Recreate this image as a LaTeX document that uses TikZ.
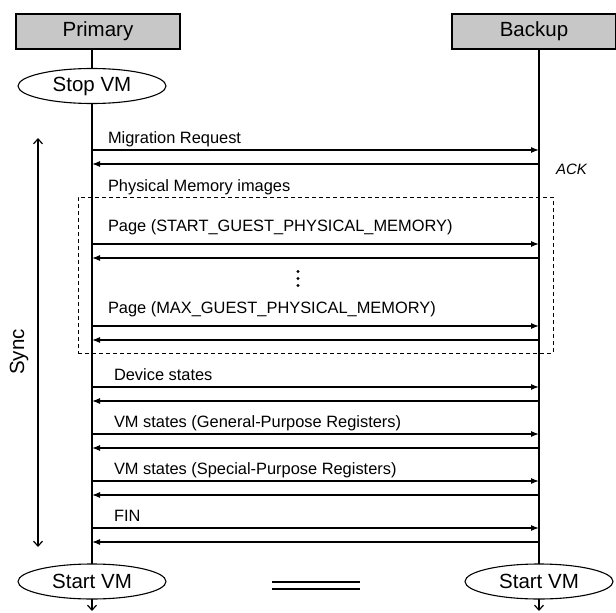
\documentclass[tikz,border=0pt]{standalone}
\usepackage{fontspec}
\setmainfont{Liberation Sans}
\usetikzlibrary{arrows.meta,shapes.geometric}
\begin{document}
\begin{tikzpicture}[x=1pt,y=-1pt,
  every node/.style={inner sep=0pt,outer sep=0pt},
  bigfont/.style={font=\fontsize{20.5}{24}\selectfont},
  hdr/.style={draw,line width=1.3pt,fill=black!22,minimum width=164pt,minimum height=35pt,bigfont},
  vm/.style={draw,ellipse,line width=1.1pt,minimum width=148pt,minimum height=35pt,bigfont},
  life/.style={line width=1.3pt},
  msg/.style={line width=1.2pt,-{Latex[length=8pt,width=6pt]}},
  barb/.style={line width=1.2pt,-{Straight Barb[length=5pt,width=9pt]}},
  lbl/.style={anchor=base west,font=\fontsize{16.4}{19}\selectfont},
  ]
\clip (0,0) rectangle (616,613);

% participants
\node[hdr] (prim) at (98,31.5) {Primary};
\node[hdr] (back) at (534,31.5) {Backup};

% VM state changes
\node[vm] (stop)   at (92,86)    {Stop VM};
\node[vm] (startP) at (92,581.5) {Start VM};
\node[vm] (startB) at (539,581.5) {Start VM};

% lifelines
\draw[life] (stop.north |- prim.south) -- (stop.north);
\draw[life] (stop.south) -- (startP.north);
\draw[life] (startB.north |- back.south) -- (startB.north);
\coordinate (pend) at (92,611);
\coordinate (bend) at (539,611);
\draw[barb] (startP.south) -- (pend);
\draw[barb] (startB.south) -- (bend);

% ends of the messages on both lifelines
\foreach \i/\y in {1/150,2/164,3/244,4/258,5/326,6/340,7/387,8/401,
                   9/434,10/448,11/481,12/495,13/528,14/542}{
  \coordinate (p\i) at (92,\y);
  \coordinate (b\i) at (539,\y);
}
\foreach \i in {1,3,5,7,9,11,13}{
  \draw[msg] (p\i) -- (b\i);
}
\foreach \i in {2,4,6,8,10,12,14}{
  \draw[msg] (b\i) -- (p\i);
}

% message labels
\node[lbl] (m1) at (108,143) {Migration Request};
\node[lbl,font=\itshape\fontsize{15}{18}\selectfont] (ack) at (556,174) {ACK};
\node[lbl] (m2) at (108,191) {Physical Memory images};
\node[lbl] (m3) at (108,231) {Page (START\_GUEST\_PHYSICAL\_MEMORY)};
\node[lbl] (m4) at (108,313) {Page (MAX\_GUEST\_PHYSICAL\_MEMORY)};
\node[lbl] (m5) at (114,380) {Device states};
\node[lbl] (m6) at (114,427) {VM states (General-Purpose Registers)};
\node[lbl] (m7) at (114,474) {VM states (Special-Purpose Registers)};
\node[lbl] (m8) at (114,521) {FIN};

% memory image transfer group
\node[draw,line width=1pt,dash pattern=on 4pt off 3pt,minimum width=475pt,minimum height=156pt] (mem) at (315.5,275) {};
\foreach \y in {271.5,278.5,285.5}{
  \fill (298,\y) circle (1.7pt);
}

% synchronisation span
\coordinate (stop-sync) at (38,138);
\coordinate (end-sync) at (38,547);
\draw[line width=1.2pt,{Straight Barb[length=5pt,width=9pt]}-{Straight Barb[length=5pt,width=9pt]}] (stop-sync) -- (end-sync);
\node[bigfont,rotate=90] (sync) at (19,352) {Sync};

% equivalence sign between the two started VMs
\coordinate (e1) at (272,582);
\coordinate (e2) at (360,582);
\coordinate (e3) at (272,589);
\coordinate (e4) at (360,589);
\draw[line width=1.2pt] (e1) -- (e2);
\draw[line width=1.2pt] (e3) -- (e4);
\end{tikzpicture}
\end{document}
